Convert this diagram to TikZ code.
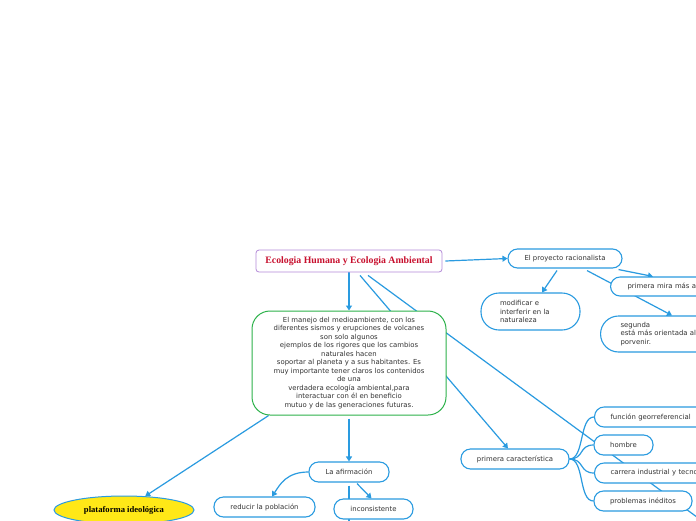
\documentclass[tikz,border=0pt]{standalone}
\usepackage{fontspec}
\setmainfont{DejaVu Sans}
\newfontfamily\titlefont{Liberation Serif}
\usetikzlibrary{arrows.meta,calc,shapes.geometric}
\pgfdeclarelayer{bg}
\pgfsetlayers{bg,main}
\definecolor{lnblue}{HTML}{2A9BE0}
\definecolor{txtgray}{HTML}{333333}
\definecolor{ttlred}{HTML}{C8102E}
\definecolor{ttlpurple}{HTML}{B48AD8}
\definecolor{mgreen}{HTML}{2DB24A}
\definecolor{platyellow}{HTML}{FFE817}
\tikzset{
  txt/.style={font=\fontsize{6.9}{8.5}\selectfont, text=txtgray},
  pill/.style={draw=lnblue, line width=1.1pt, fill=white, rounded corners=9.5pt,
    minimum height=20pt, inner sep=0pt, txt},
  leftpill/.style={pill, anchor=west, align=left, text width=#1},
  conn/.style={draw=lnblue, line width=1.2pt},
  arr/.style={conn, -{Triangle[width=6pt,length=5pt]}},
  titlebox/.style={draw=ttlpurple, line width=0.8pt, fill=white, rounded corners=3pt,
    minimum width=186pt, minimum height=22pt, inner sep=0pt,
    font=\titlefont\bfseries\fontsize{9.8}{11}\selectfont, text=ttlred},
  mainbox/.style={draw=mgreen, line width=1pt, fill=white, rounded corners=18pt,
    minimum width=194pt, minimum height=104pt, inner sep=0pt, align=center, txt},
  platbox/.style={ellipse, draw=lnblue, line width=1pt, fill=platyellow,
    minimum width=140pt, minimum height=28pt, inner sep=0pt,
    font=\titlefont\bfseries\fontsize{8.6}{10}\selectfont, text=black},
}
\begin{document}
\begin{tikzpicture}[x=1pt,y=-1pt]
\useasboundingbox (0,0) rectangle (696,520);
\clip (0,0) rectangle (696,520);

\node[titlebox] (title) at (349,261) {Ecologia Humana y Ecologia Ambiental};
\node[mainbox] (main) at (349,363) {El manejo del medioambiente, con los\\diferentes sismos y erupciones de volcanes\\son solo algunos\\ejemplos de los rigores que los cambios\\naturales hacen\\soportar al planeta y a sus habitantes. Es\\muy importante tener claros los contenidos\\de una\\verdadera ecología ambiental,para\\interactuar con él en beneficio\\mutuo y de las generaciones futuras.};

\node[pill, minimum width=114pt, minimum height=19pt] (proj) at (565,258.5) {El proyecto racionalista};
\node[leftpill=120pt, inner xsep=17pt, minimum height=19pt] (mira) at (610,286.5) {primera mira más a};
\node[pill, rounded corners=18pt, minimum height=37pt, text width=61pt, align=left, inner xsep=19pt] (modif) at (530.5,311.5) {modificar e\\interferir en la\\naturaleza};
\node[leftpill=110pt, rounded corners=18pt, minimum height=36pt, inner xsep=20pt] (segunda) at (600,334) {segunda\\está más orientada al\\porvenir.};

\node[pill, minimum width=108pt] (primcar) at (515,459) {primera característica};
\node[leftpill=120pt, inner xsep=16pt] (fgeo) at (594,417) {función georreferencial};
\node[pill, minimum width=59pt] (hombre) at (623.5,445) {hombre};
\node[leftpill=120pt, inner xsep=16pt] (carrera) at (594,473) {carrera industrial y tecno};
\node[pill, minimum width=98pt] (probl) at (643,501) {problemas inéditos};

\node[pill, minimum width=80pt] (afirm) at (349,472) {La afirmación};
\node[pill, minimum width=101pt] (reducir) at (264.5,507) {reducir la población};
\node[pill, minimum width=79pt] (incons) at (373.5,509) {inconsistente};
\node[platbox] (plat) at (124,510) {plataforma ideológica};

\coordinate (off1) at (720,534);
\coordinate (off2) at (349,540);

\begin{pgfonlayer}{bg}
\fill[white] (0,0) rectangle (696,520);
\draw[arr] (title) -- (main);
\draw[arr] ($(title.south)+(11,3)$) -- ($(primcar.north)+(-7,0)$);
\draw[conn] ($(title.south)+(19,3)$) -- (off1);
\draw[arr] ($(title.east)+(3,0)$) -- (proj.west);
\draw[arr] ($(proj.south)+(-8,2)$) -- ($(modif.north)+(11.5,0)$);
\draw[arr] ($(proj.south east)+(-4,1)$) -- ($(mira.north west)+(43,0)$);
\draw[arr] ($(proj.south)+(22,2)$) -- ($(segunda.north west)+(72,0)$);
\draw[arr] (main) -- (plat);
\draw[arr] ($(main.south)+(0,3)$) -- (afirm.north);
\draw[arr] (afirm.west) .. controls +(-22,0) and +(8,-12) .. ($(reducir.north)+(7.5,0)$);
\draw[arr] ($(afirm.south)+(8,1)$) -- ($(incons.north)+(-2,0)$);
\draw[conn] ($(afirm.south)+(0,3)$) -- (off2);
\foreach \c in {fgeo,hombre,carrera,probl}
  \draw[conn] (primcar.east) .. controls +(15,0) and +(-15,0) .. (\c.west);
\end{pgfonlayer}
\end{tikzpicture}
\end{document}
